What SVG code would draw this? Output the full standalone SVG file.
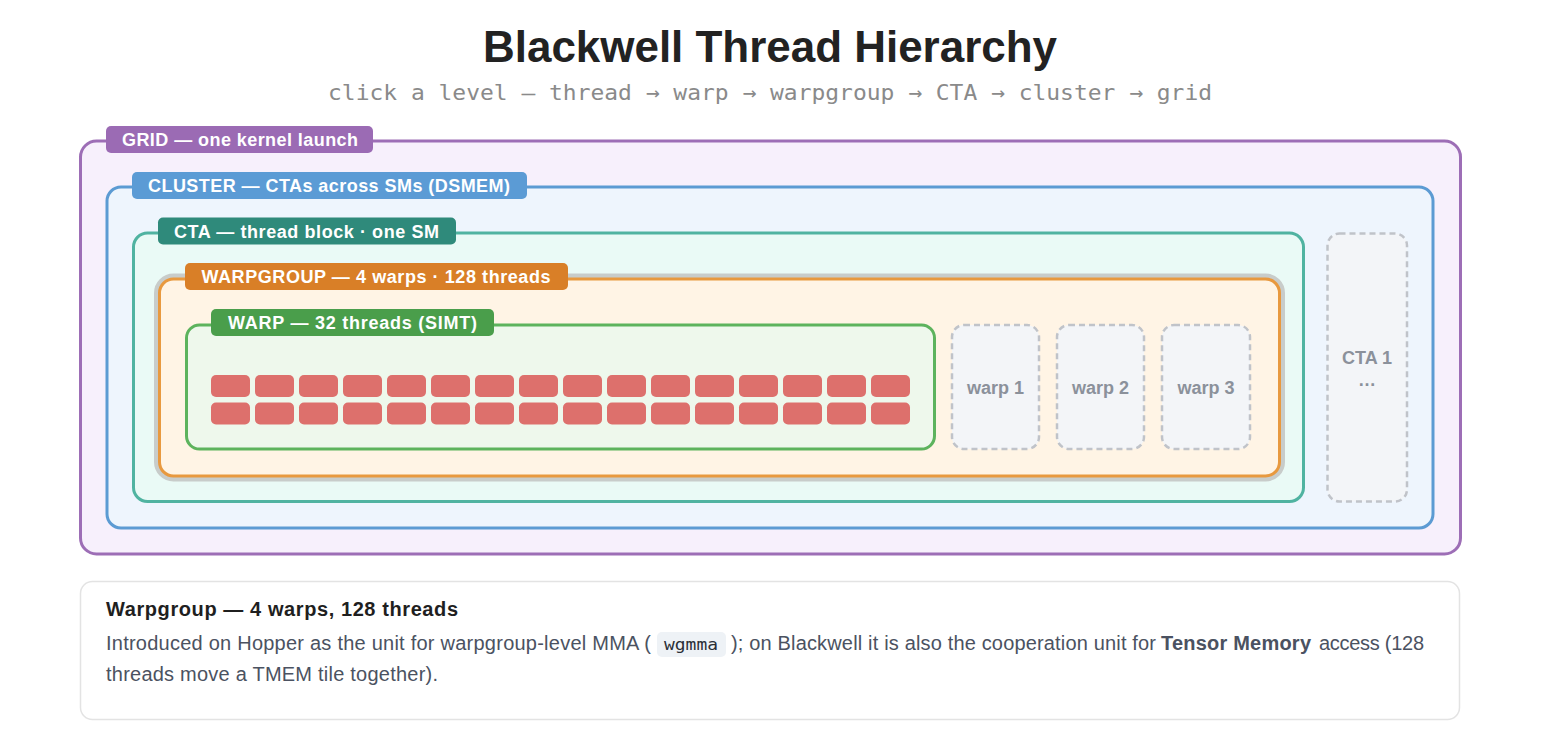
<svg xmlns="http://www.w3.org/2000/svg" width="1552" height="740" viewBox="0 0 1552 740">
<style>
.box{stroke-width:3}
.lbl{fill:#fff;font-family:"Liberation Sans",Arial,sans-serif;font-weight:bold;font-size:18px}
.ghost{fill:#f3f5f8;stroke:#c0c3c9;stroke-width:2.5;stroke-dasharray:6 4}
.gtxt{fill:#8b919b;font-family:"Liberation Sans",Arial,sans-serif;font-weight:bold;font-size:18px;text-anchor:middle}
.thr{fill:#dd706c}
.body{fill:#4b5261;font-family:"Liberation Sans",Arial,sans-serif;font-size:20px}
</style>
<rect width="1552" height="740" fill="#ffffff"/>
<g id="title">
<text x="770" y="62" text-anchor="middle" font-family="Liberation Sans,Arial,sans-serif" font-weight="bold" font-size="44" fill="#222222" textLength="574" lengthAdjust="spacingAndGlyphs">Blackwell Thread Hierarchy</text>
<text x="328" y="100" font-family="DejaVu Sans Mono,Liberation Mono,monospace" font-size="22" fill="#8a8a8a" textLength="884" lengthAdjust="spacingAndGlyphs">click a level — thread → warp → warpgroup → CTA → cluster → grid</text>
</g>
<g id="grid">
<rect class="box" x="80.5" y="141" width="1380" height="413" rx="16" fill="#f7f0fc" stroke="#9d6eb6"/>
<rect x="106" y="126" width="267" height="27" rx="5" fill="#9b6bb4"/>
<text class="lbl" x="122" y="146" textLength="236" lengthAdjust="spacing">GRID — one kernel launch</text>
</g>
<g id="cluster">
<rect class="box" x="107" y="187" width="1326" height="341" rx="14" fill="#eef5fd" stroke="#5c9bd3"/>
<rect x="132" y="172" width="395" height="27" rx="5" fill="#5b9bd5"/>
<text class="lbl" x="148" y="192" textLength="362" lengthAdjust="spacing">CLUSTER — CTAs across SMs (DSMEM)</text>
</g>
<g id="cta">
<rect class="box" x="133.5" y="233" width="1170" height="268.5" rx="14" fill="#eafaf6" stroke="#50b3a1"/>
<rect x="158" y="217.5" width="298" height="27" rx="5" fill="#2f8a7b"/>
<text class="lbl" x="174" y="237.5" textLength="265" lengthAdjust="spacing">CTA — thread block · one SM</text>
</g>
<g id="cta1">
<rect class="ghost" x="1327.5" y="233.5" width="79.5" height="268" rx="12"/>
<text class="gtxt" x="1367" y="364" font-size="17">CTA 1</text>
<text class="gtxt" x="1367" y="386" font-size="17">…</text>
</g>
<g id="warpgroup">
<rect x="159.5" y="279" width="1120" height="197" rx="14" fill="none" stroke="#c8ccca" stroke-width="11"/>
<rect class="box" x="159.5" y="279" width="1120" height="197" rx="14" fill="#fff4e5" stroke="#e8993f"/>
<rect x="185" y="263" width="383" height="27" rx="5" fill="#d97f27"/>
<text class="lbl" x="201.5" y="283" textLength="349" lengthAdjust="spacing">WARPGROUP — 4 warps · 128 threads</text>
</g>
<g id="warp">
<rect class="box" x="186.5" y="325" width="748" height="124" rx="13" fill="#eef8ec" stroke="#5db35d"/>
<rect x="211" y="309" width="283" height="27" rx="5" fill="#4a9e4b"/>
<text class="lbl" x="228" y="329" textLength="249" lengthAdjust="spacing">WARP — 32 threads (SIMT)</text>
<g id="threads">
<rect class="thr" x="211" y="375" width="39" height="22" rx="5"/>
<rect class="thr" x="255" y="375" width="39" height="22" rx="5"/>
<rect class="thr" x="299" y="375" width="39" height="22" rx="5"/>
<rect class="thr" x="343" y="375" width="39" height="22" rx="5"/>
<rect class="thr" x="387" y="375" width="39" height="22" rx="5"/>
<rect class="thr" x="431" y="375" width="39" height="22" rx="5"/>
<rect class="thr" x="475" y="375" width="39" height="22" rx="5"/>
<rect class="thr" x="519" y="375" width="39" height="22" rx="5"/>
<rect class="thr" x="563" y="375" width="39" height="22" rx="5"/>
<rect class="thr" x="607" y="375" width="39" height="22" rx="5"/>
<rect class="thr" x="651" y="375" width="39" height="22" rx="5"/>
<rect class="thr" x="695" y="375" width="39" height="22" rx="5"/>
<rect class="thr" x="739" y="375" width="39" height="22" rx="5"/>
<rect class="thr" x="783" y="375" width="39" height="22" rx="5"/>
<rect class="thr" x="827" y="375" width="39" height="22" rx="5"/>
<rect class="thr" x="871" y="375" width="39" height="22" rx="5"/>
<rect class="thr" x="211" y="402.5" width="39" height="22" rx="5"/>
<rect class="thr" x="255" y="402.5" width="39" height="22" rx="5"/>
<rect class="thr" x="299" y="402.5" width="39" height="22" rx="5"/>
<rect class="thr" x="343" y="402.5" width="39" height="22" rx="5"/>
<rect class="thr" x="387" y="402.5" width="39" height="22" rx="5"/>
<rect class="thr" x="431" y="402.5" width="39" height="22" rx="5"/>
<rect class="thr" x="475" y="402.5" width="39" height="22" rx="5"/>
<rect class="thr" x="519" y="402.5" width="39" height="22" rx="5"/>
<rect class="thr" x="563" y="402.5" width="39" height="22" rx="5"/>
<rect class="thr" x="607" y="402.5" width="39" height="22" rx="5"/>
<rect class="thr" x="651" y="402.5" width="39" height="22" rx="5"/>
<rect class="thr" x="695" y="402.5" width="39" height="22" rx="5"/>
<rect class="thr" x="739" y="402.5" width="39" height="22" rx="5"/>
<rect class="thr" x="783" y="402.5" width="39" height="22" rx="5"/>
<rect class="thr" x="827" y="402.5" width="39" height="22" rx="5"/>
<rect class="thr" x="871" y="402.5" width="39" height="22" rx="5"/>
</g>
</g>
<g id="warp1">
<rect class="ghost" x="952" y="325" width="87" height="124" rx="12"/>
<text class="gtxt" x="995.5" y="394">warp 1</text>
</g>
<g id="warp2">
<rect class="ghost" x="1057" y="325" width="87" height="124" rx="12"/>
<text class="gtxt" x="1100.5" y="394">warp 2</text>
</g>
<g id="warp3">
<rect class="ghost" x="1162" y="325" width="88" height="124" rx="12"/>
<text class="gtxt" x="1206" y="394">warp 3</text>
</g>
<g id="connectors"></g>
<g id="info">
<rect x="80.5" y="581.5" width="1379" height="138" rx="12" fill="#ffffff" stroke="#e3e3e3" stroke-width="1.5"/>
<text x="106" y="616" font-family="Liberation Sans,Arial,sans-serif" font-weight="bold" font-size="20" fill="#1f1f1f" textLength="352" lengthAdjust="spacing">Warpgroup — 4 warps, 128 threads</text>
<text class="body" x="106" y="650" textLength="545" lengthAdjust="spacing">Introduced on Hopper as the unit for warpgroup-level MMA (</text>
<rect x="657" y="632" width="69" height="25" rx="5" fill="#eef2f6"/>
<text x="664" y="650" font-family="DejaVu Sans Mono,Liberation Mono,monospace" font-size="16" fill="#2b2f36" textLength="54" lengthAdjust="spacingAndGlyphs">wgmma</text>
<text class="body" x="731" y="650" textLength="425" lengthAdjust="spacing">); on Blackwell it is also the cooperation unit for</text>
<text class="body" x="1161" y="650" font-weight="bold" fill="#3d4450" textLength="150" lengthAdjust="spacing">Tensor Memory</text>
<text class="body" x="1319" y="650" textLength="105" lengthAdjust="spacing">access (128</text>
<text class="body" x="106" y="681" textLength="332" lengthAdjust="spacing">threads move a TMEM tile together).</text>
</g>
</svg>
